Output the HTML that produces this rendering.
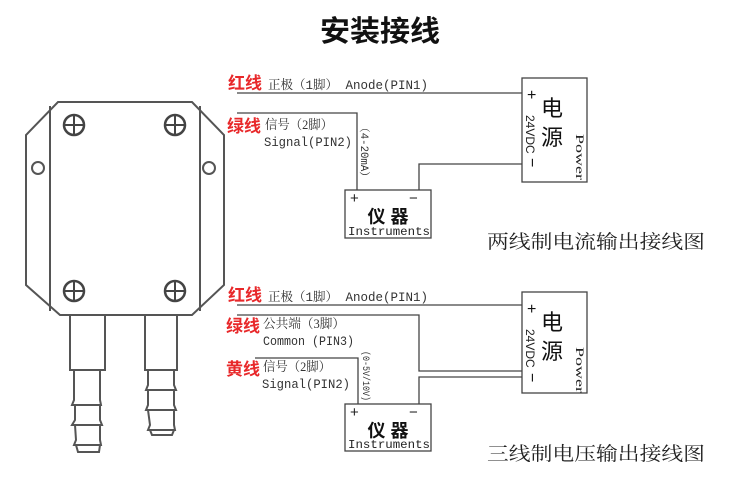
<!DOCTYPE html>
<html><head><meta charset="utf-8"><style>
html,body{margin:0;padding:0;background:#fff;width:750px;height:500px;overflow:hidden}
svg{display:block}
.cn{font-family:"Liberation Serif","Noto Serif CJK SC",serif}
.sans{font-family:"Liberation Sans","Noto Sans CJK SC",sans-serif}
.mono{font-family:"Liberation Mono","Noto Serif CJK SC",monospace}
</style></head><body>
<svg width="750" height="500" viewBox="0 0 750 500" xmlns="http://www.w3.org/2000/svg">
<text x="380" y="41" text-anchor="middle" class="sans" font-size="29" font-weight="bold" fill="#111" textLength="120" lengthAdjust="spacingAndGlyphs">安装接线</text>

<!-- sensor -->
<g fill="none" stroke="#555" stroke-width="2">
<polygon points="58,102 192,102 224,135 224,285 192,315 60,315 26,285 26,135"/>
<line x1="50" y1="106" x2="50" y2="311"/>
<line x1="200" y1="106" x2="200" y2="311"/>
<circle cx="38" cy="168" r="6"/>
<circle cx="209" cy="168" r="6"/>
<path d="M70,315 V370 H105 V315"/>
<path d="M74,370 V400 L72,405 L101,405 L100,400 V370"/>
<path d="M75,405 L75,420 L72,425 L102,425 L100,420 L100,405"/>
<path d="M75,425 L76,440 L74,445 L101,445 L100,440 L100,425"/>
<path d="M76,445 L78,452 L99,452 L100,445"/>
<path d="M145,315 V370 H177 V315"/>
<path d="M148,370 L148,385 L146,390 L176,390 L174,385 L174,370"/>
<path d="M148,390 L148,405 L146,410 L176,410 L174,405 L174,390"/>
<path d="M148,410 L150,425 L148,430 L175,430 L174,425 L174,410"/>
<path d="M150,430 L152,435 L172,435 L174,430"/>
</g>
<g fill="#fff" stroke="#444" stroke-width="2.5">
<circle cx="74" cy="125" r="10"/><circle cx="175" cy="125" r="10"/>
<circle cx="74" cy="291" r="10"/><circle cx="175" cy="291" r="10"/>
</g>
<g stroke="#444" stroke-width="2">
<path d="M74,116 V134 M65,125 H83"/><path d="M175,116 V134 M166,125 H184"/>
<path d="M74,282 V300 M65,291 H83"/><path d="M175,282 V300 M166,291 H184"/>
</g>

<!-- top diagram -->
<g fill="none" stroke="#444" stroke-width="1.3">
<path d="M237,93 H522"/>
<path d="M237,113 H357 V190"/>
<rect x="522" y="78" width="65" height="104"/>
<rect x="345" y="190" width="86" height="48"/>
<path d="M419,190 V164 H522"/>
</g>
<text x="228" y="89" class="sans" font-size="17" font-weight="bold" fill="#e8282a">红线</text>
<text x="268" y="89" class="mono" font-size="12.5" fill="#333" textLength="160" lengthAdjust="spacingAndGlyphs">正极（1脚） Anode(PIN1)</text>
<text x="227" y="132" class="sans" font-size="17" font-weight="bold" fill="#e8282a">绿线</text>
<text x="265" y="129" class="cn" font-size="13" fill="#333" textLength="68" lengthAdjust="spacingAndGlyphs">信号（2脚）</text>
<text x="264" y="146" class="mono" font-size="12.5" fill="#333" textLength="88" lengthAdjust="spacingAndGlyphs">Signal(PIN2)</text>
<text transform="translate(361,122) rotate(90)" class="mono" font-size="11" fill="#333" textLength="60" lengthAdjust="spacingAndGlyphs">（4-20mA）</text>
<text x="350" y="203" class="sans" font-size="15" fill="#222">+</text>
<text x="409" y="203" class="sans" font-size="15" fill="#222">−</text>
<text x="388" y="223" text-anchor="middle" class="sans" font-size="18" font-weight="bold" fill="#111">仪 器</text>
<text x="348" y="235" class="mono" font-size="12" fill="#222" textLength="82" lengthAdjust="spacingAndGlyphs">Instruments</text>
<text x="527" y="100" class="sans" font-size="16" fill="#111">+</text>
<text transform="translate(527,158) rotate(90)" class="sans" font-size="16" fill="#111">−</text>
<text x="541" y="116" class="sans" font-size="22" fill="#111">电</text>
<text x="541" y="145" class="sans" font-size="22" fill="#111">源</text>
<text transform="translate(526,115) rotate(90)" class="sans" font-size="12" fill="#222">24VDC</text>
<text transform="translate(576,134) rotate(90)" class="cn" font-size="12" fill="#222" textLength="46" lengthAdjust="spacingAndGlyphs">Power</text>
<text x="487" y="248" class="cn" font-size="19" fill="#222" textLength="218" lengthAdjust="spacingAndGlyphs">两线制电流输出接线图</text>

<!-- bottom diagram -->
<g fill="none" stroke="#444" stroke-width="1.3">
<path d="M237,305 H522"/>
<path d="M237,315 H419 V371 H522"/>
<path d="M255,358 H358 V404"/>
<rect x="522" y="292" width="65" height="101"/>
<rect x="345" y="404" width="86" height="47"/>
<path d="M419,404 V377 H522"/>
</g>
<text x="228" y="301" class="sans" font-size="17" font-weight="bold" fill="#e8282a">红线</text>
<text x="268" y="301" class="mono" font-size="12.5" fill="#333" textLength="160" lengthAdjust="spacingAndGlyphs">正极（1脚） Anode(PIN1)</text>
<text x="226" y="332" class="sans" font-size="17" font-weight="bold" fill="#e8282a">绿线</text>
<text x="263" y="328" class="cn" font-size="13" fill="#333" textLength="82" lengthAdjust="spacingAndGlyphs">公共端（3脚）</text>
<text x="263" y="345" class="mono" font-size="12.5" fill="#333" textLength="91" lengthAdjust="spacingAndGlyphs">Common (PIN3)</text>
<text x="226" y="375" class="sans" font-size="17" font-weight="bold" fill="#e8282a">黄线</text>
<text x="263" y="371" class="cn" font-size="13" fill="#333" textLength="68" lengthAdjust="spacingAndGlyphs">信号（2脚）</text>
<text x="262" y="388" class="mono" font-size="12.5" fill="#333" textLength="88" lengthAdjust="spacingAndGlyphs">Signal(PIN2)</text>
<text transform="translate(363,351) rotate(90)" class="mono" font-size="10" fill="#333" textLength="50" lengthAdjust="spacingAndGlyphs">(0-5V/10V)</text>
<text x="350" y="417" class="sans" font-size="15" fill="#222">+</text>
<text x="409" y="417" class="sans" font-size="15" fill="#222">−</text>
<text x="388" y="437" text-anchor="middle" class="sans" font-size="18" font-weight="bold" fill="#111">仪 器</text>
<text x="348" y="448" class="mono" font-size="12" fill="#222" textLength="82" lengthAdjust="spacingAndGlyphs">Instruments</text>
<text x="527" y="314" class="sans" font-size="16" fill="#111">+</text>
<text transform="translate(527,373) rotate(90)" class="sans" font-size="16" fill="#111">−</text>
<text x="541" y="330" class="sans" font-size="22" fill="#111">电</text>
<text x="541" y="359" class="sans" font-size="22" fill="#111">源</text>
<text transform="translate(526,329) rotate(90)" class="sans" font-size="12" fill="#222">24VDC</text>
<text transform="translate(576,347) rotate(90)" class="cn" font-size="12" fill="#222" textLength="46" lengthAdjust="spacingAndGlyphs">Power</text>
<text x="487" y="460" class="cn" font-size="19" fill="#222" textLength="218" lengthAdjust="spacingAndGlyphs">三线制电压输出接线图</text>
</svg>
</body></html>
